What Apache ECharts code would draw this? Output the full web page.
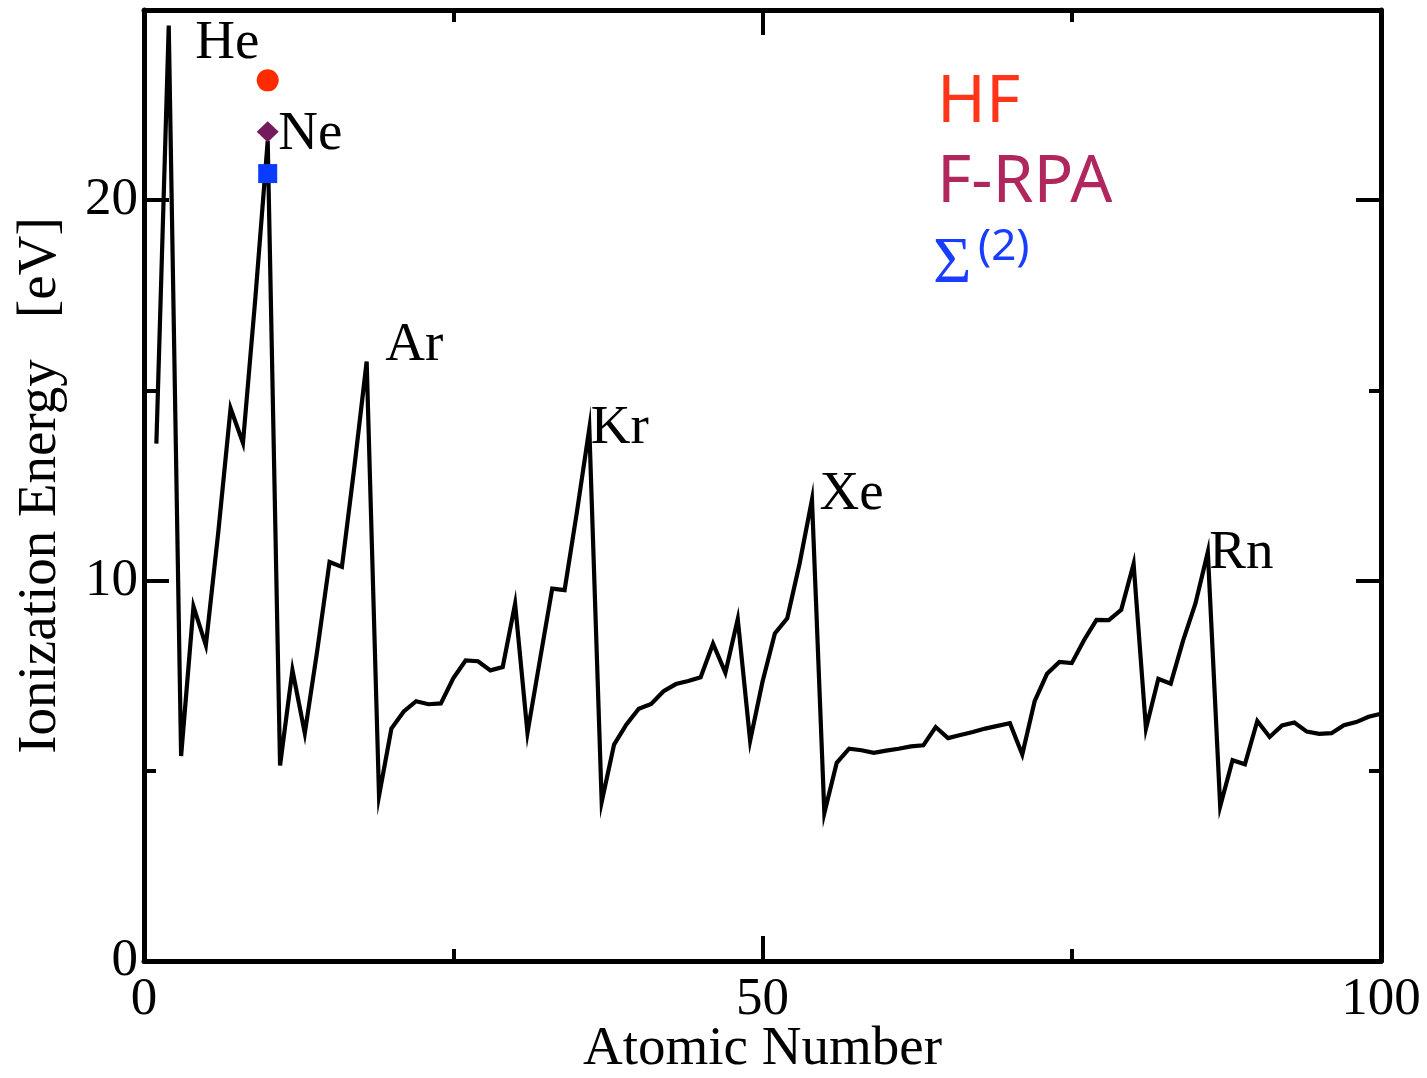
<!DOCTYPE html>
<html>
<head>
<meta charset="utf-8">
<title>Ionization Energy</title>
<script src="https://cdn.jsdelivr.net/npm/echarts@6/dist/echarts.min.js"></script>
<style>
  html, body { margin: 0; padding: 0; background: #fff; }
  #myChart { width: 1427px; height: 1078px; }
</style>
</head>
<body>
<div id="myChart"></div>
<script>
// first ionization energy [eV], Z = 1 .. 100
var energies = [
  13.60, 24.59,
  5.39, 9.32, 8.30, 11.26, 14.53, 13.62, 17.42, 21.56,
  5.14, 7.65, 5.99, 8.15, 10.49, 10.36, 12.97, 15.76,
  4.34, 6.11, 6.56, 6.83, 6.75, 6.77, 7.43, 7.90, 7.88, 7.64, 7.73, 9.39, 6.00, 7.90, 9.79, 9.75, 11.81, 14.00,
  4.18, 5.69, 6.22, 6.63, 6.76, 7.09, 7.28, 7.36, 7.46, 8.34, 7.58, 8.99, 5.79, 7.34, 8.61, 9.01, 10.45, 12.13,
  3.89, 5.21, 5.58, 5.54, 5.47, 5.53, 5.58, 5.64, 5.67, 6.15, 5.86, 5.94, 6.02, 6.11, 6.18, 6.25, 5.43,
  6.83, 7.55, 7.86, 7.83, 8.44, 8.97, 8.96, 9.23, 10.44, 6.11, 7.42, 7.29, 8.42, 9.40, 10.75,
  4.07, 5.28, 5.17, 6.31, 5.89, 6.19, 6.27, 6.03, 5.97, 5.99, 6.20, 6.28, 6.42, 6.50
]

// noble gas labels
var nobleNames = ['He', 'Ne', 'Ar', 'Kr', 'Xe', 'Rn']
var nobleZ = [2, 10, 18, 36, 54, 86]

// neon results of the three methods
var methodNames = ['HF', 'F-RPA', 'Σ(2)']
var neonZ = 10
var neonValues = [23.15, 21.80, 20.70]

var xTicks = [0, 50, 100]
var yTicks = [0, 10, 20]

var labelOffset = {
  He: [26, 18], Ne: [10, -6], Ar: [18, -16], Kr: [1, 0], Xe: [7, -5], Rn: [1, 1]
}
var methodStyle = [
  { symbol: 'circle', size: 22, color: '#ff2a00' },
  { symbol: 'diamond', size: [22, 21], color: '#741a5f' },
  { symbol: 'rect', size: 19, color: '#0a3cff' }
]

var serif = '"Liberation Serif", "Times New Roman", serif'

function xAxisDef (pos, showLabel) {
  return {
    type: 'value',
    position: pos,
    min: xTicks[0],
    max: xTicks[xTicks.length - 1],
    interval: xTicks[1] - xTicks[0],
    axisLine: { show: true, onZero: false, lineStyle: { color: '#000', width: 5 } },
    axisTick: { show: true, inside: true, length: 25, lineStyle: { color: '#000', width: 4 } },
    minorTick: { show: true, splitNumber: 2, length: 12, lineStyle: { color: '#000', width: 4 } },
    axisLabel: { show: showLabel, margin: 13, color: '#000', fontSize: 53, fontFamily: serif },
    splitLine: { show: false },
    name: showLabel ? 'Atomic Number' : '',
    nameLocation: 'middle',
    nameGap: 61,
    nameMoveOverlap: false,
    nameTextStyle: { color: '#000', fontSize: 55, fontFamily: serif }
  }
}

function yAxisDef (pos, step, len, showLabel, showLine) {
  return {
    type: 'value',
    position: pos,
    min: 0,
    max: 25,
    interval: step,
    axisLine: { show: showLine, onZero: false, lineStyle: { color: '#000', width: 5 } },
    axisTick: { show: true, inside: true, length: len, lineStyle: { color: '#000', width: 4 } },
    axisLabel: {
      show: showLabel, margin: 6, color: '#000', fontSize: 53, fontFamily: serif,
      formatter: function (v) { return yTicks.indexOf(v) >= 0 ? String(v) : '' }
    },
    splitLine: { show: false },
    name: showLabel ? 'Ionization Energy   [eV]' : '',
    nameLocation: 'middle',
    nameGap: 76,
    nameMoveOverlap: false,
    nameTextStyle: { color: '#000', fontSize: 55, fontFamily: serif }
  }
}

var myChart = echarts.init(document.getElementById('myChart'))

var series = [{
  type: 'line',
  data: energies.map(function (v, i) { return [i + 1, v] }),
  symbol: 'none',
  lineStyle: { color: '#000', width: 4.2, join: 'miter', miterLimit: 12 },
  z: 2,
  silent: true
}, {
  type: 'scatter',
  symbolSize: 1,
  itemStyle: { color: '#fff', opacity: 1 },
  silent: true,
  data: nobleNames.map(function (n, i) {
    return {
      value: [nobleZ[i], energies[nobleZ[i] - 1]],
      label: {
        show: true,
        position: 'right',
        distance: 0,
        offset: labelOffset[n],
        formatter: n,
        color: '#000',
        opacity: 1,
        fontSize: 55,
        fontFamily: serif
      }
    }
  }),
  z: 1
}]

methodNames.forEach(function (m, i) {
  series.push({
    name: m,
    type: 'scatter',
    symbol: methodStyle[i].symbol,
    symbolSize: methodStyle[i].size,
    itemStyle: { color: methodStyle[i].color, opacity: 1 },
    data: [[neonZ, neonValues[i]]],
    z: 4
  })
})

var option = {
  backgroundColor: '#fff',
  animation: false,
  grid: { left: 144, right: 46, top: 10, bottom: 117, containLabel: false, outerBoundsMode: 'none' },
  xAxis: [xAxisDef('bottom', true), xAxisDef('top', false)],
  yAxis: [
    yAxisDef('left', 10, 25, true, true),
    yAxisDef('left', 5, 12, false, false),
    yAxisDef('right', 10, 25, false, true),
    yAxisDef('right', 5, 12, false, false)
  ],
  graphic: [
    { type: 'text', left: 937, top: 70, style: { text: 'HF', fill: '#ff3519', font: '66px "Noto Sans"' } },
    { type: 'text', left: 937, top: 150, style: { text: 'F-RPA', fill: '#b0275e', font: '66px "Noto Sans"' } },
    { type: 'text', left: 933, top: 232, style: { text: 'Σ', fill: '#1a3cff', font: '66px "Liberation Serif"' } },
    { type: 'text', left: 978, top: 225, style: { text: '(2)', fill: '#1a3cff', font: '44px "Noto Sans"' } }
  ],
  series: series
}

myChart.setOption(option)
</script>
</body>
</html>
